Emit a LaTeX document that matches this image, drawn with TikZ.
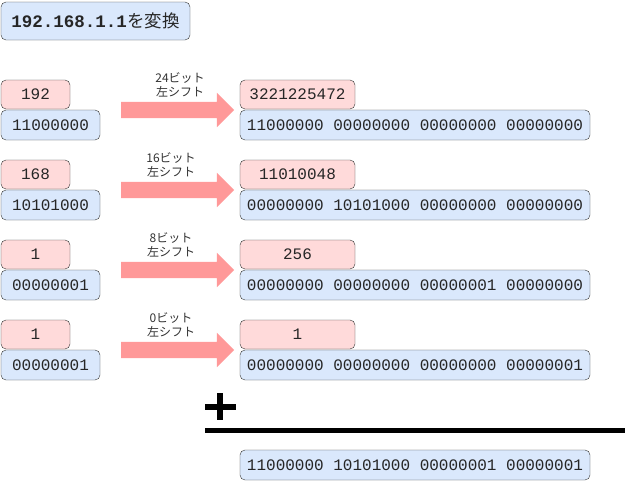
\documentclass[tikz,border=0pt]{standalone}
\usepackage{fontspec}
\setmonofont{Liberation Mono}
\newfontfamily\jpfont{Noto Sans CJK JP}
\usepackage{xcolor}
\usetikzlibrary{shapes.arrows}
\definecolor{boxred}{HTML}{FFDADA}
\definecolor{boxblue}{HTML}{DAE8FC}
\definecolor{boxline}{HTML}{333333}
\definecolor{shiftred}{HTML}{FF9999}

\begin{document}
\begin{tikzpicture}[x=1pt, y=-1pt,
    bits/.style={draw=boxline, rounded corners=5pt, inner sep=0pt, minimum height=30,
        text=black!85, font=\ttfamily\fontsize{16}{18}\selectfont},
    redbits/.style={bits, fill=boxred, minimum height=29},
    bluebits/.style={bits, fill=boxblue},
    shiftarrow/.style={single arrow, fill=shiftred, inner xsep=0pt, inner ysep=8pt,
        minimum height=113, single arrow head extend=9pt},
    shiftlabel/.style={align=center, text=boxline, font=\jpfont\fontsize{12}{14}\selectfont}]
				\useasboundingbox (0,0) rectangle (630,482);
				\node[bluebits, minimum width=189, minimum height=38] (title) at (95.5,21)
				    {\fontsize{17.5}{20}\selectfont\bfseries 192.168.1.1\jpfont\mdseries を変換};
				\foreach \i/\lx/\a/\b/\c/\d/\n in {
				    0/180/192/11000000/3221225472/11000000 00000000 00000000 00000000/24,
				    1/171/168/10101000/11010048/00000000 10101000 00000000 00000000/16,
				    2/171/1/00000001/256/00000000 00000000 00000001 00000000/8,
				    3/171/1/00000001/1/00000000 00000000 00000000 00000001/0} {
				    \node[redbits, minimum width=69] (num\i) at (35.5,94.5+80*\i) {\a};
				    \node[bluebits, minimum width=99] (bin\i) at (50.5,125+80*\i) {\b};
				    \node[shiftarrow] (arr\i) at (173.5,110+80*\i) {};
				    \node[shiftlabel] (lab\i) at (\lx,85+80*\i) {\n ビット\\左シフト};
				    \node[redbits, minimum width=115] (res\i) at (297.5,94.5+80*\i) {\c};
				    \node[bluebits, minimum width=350] (wide\i) at (415,125+80*\i) {\d};
				}
				\draw[line width=6pt] (205,406.5) -- (236,406.5);
				\draw[line width=6pt] (219.5,393) -- (219.5,420);
				\draw[line width=5.5pt] (205,430.5) -- (625,430.5);
				\node[bluebits, minimum width=350] (sum) at (415,465) {11000000 10101000 00000001 00000001};
			\end{tikzpicture}
\end{document}
